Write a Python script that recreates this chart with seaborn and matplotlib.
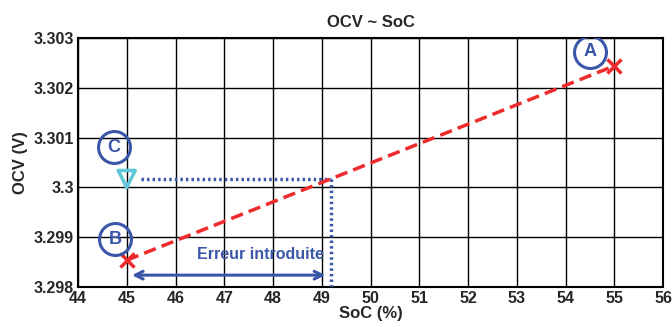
import numpy as np
import pandas as pd
import seaborn as sns
import matplotlib.pyplot as plt

# Data
soc = [45.0, 55.0]
ocv = [3.29854, 3.30244]
soc_c = [45.0]
ocv_c = [3.30017]
soc_err = 49.18
ocv_arrow = 3.29824
label_names = ["A", "B", "C"]
label_soc = [54.5, 44.76, 44.74]
label_ocv = [3.30272, 3.29896, 3.30081]
xticks = list(range(44, 57))
yticks = [3.298, 3.299, 3.3, 3.301, 3.302, 3.303]
ytick_labels = ["3.298", "3.299", "3.3", "3.301", "3.302", "3.303"]

sns.set_style("white")
plt.rcParams['font.family'] = ['Liberation Sans', 'DejaVu Sans']
plt.rcParams['font.weight'] = 'bold'

blue = '#3a56a8'
red = '#ee2a2a'

fig = plt.figure(figsize=(6.72, 3.27), dpi=100)
ax = fig.add_axes([0.116, 0.122, 0.871, 0.762])

df = pd.DataFrame({"SoC": soc, "OCV": ocv})
sns.lineplot(data=df, x="SoC", y="OCV", ax=ax, color=red, lw=2.5,
             linestyle=(0, (3.6, 1.8)), marker='x', markersize=10,
             markeredgewidth=2.5, markeredgecolor=red, zorder=4)

# dotted guides
ax.plot([45.3, soc_err], [ocv_c[0], ocv_c[0]], color=blue, lw=2.5,
        linestyle=(0, (0.7, 0.9)), zorder=3)
ax.plot([soc_err, soc_err], [ocv_c[0], 3.298], color=blue, lw=2.5,
        linestyle=(0, (0.7, 0.9)), zorder=3)

sns.scatterplot(x=soc_c, y=ocv_c, ax=ax, marker='v', s=150,
                facecolor='none', edgecolor='#5fc8d8', linewidth=2.5, zorder=5)

# arrow
ax.annotate("", xy=(45.05, ocv_arrow), xytext=(soc_err - 0.05, ocv_arrow),
            arrowprops=dict(arrowstyle='<->', color=blue, lw=2.2,
                            mutation_scale=14), zorder=5)
ax.text(47.75, 3.29866, "Erreur introduite", color=blue, fontsize=11.5,
        fontweight='bold', ha='center', va='center')

# circled labels
for name, xs, ys in zip(label_names, label_soc, label_ocv):
    ax.plot(xs, ys, marker='o', markersize=23, markerfacecolor='none',
            markeredgecolor=blue, markeredgewidth=2.2, zorder=6)
    ax.text(xs, ys, name, color=blue, fontsize=13, fontweight='bold',
            ha='center', va='center', zorder=7)

ax.set_xlim(44, 56)
ax.set_ylim(3.298, 3.303)
ax.set_xticks(xticks)
ax.set_yticks(yticks)
ax.set_yticklabels(ytick_labels)
ax.grid(True, color='black', lw=1.0)
for sp in ax.spines.values():
    sp.set_color('black')
    sp.set_linewidth(1.5)
ax.tick_params(axis='both', labelsize=11.5, length=0, pad=3)
for lbl in ax.get_xticklabels() + ax.get_yticklabels():
    lbl.set_fontweight('bold')
ax.set_xlabel("SoC (%)", fontsize=12, fontweight='bold', labelpad=0)
ax.set_ylabel("OCV (V)", fontsize=12, fontweight='bold', labelpad=4)
ax.set_title("OCV ~ SoC", fontsize=12, fontweight='bold', pad=8)

fig.savefig("out.png", dpi=100)
